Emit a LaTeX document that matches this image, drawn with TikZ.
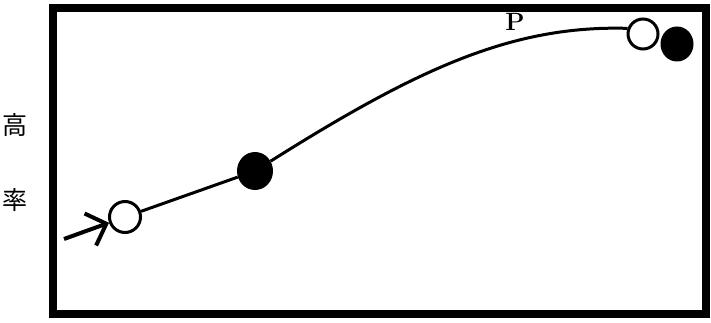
\documentclass[tikz,border=0pt]{standalone}
\usepackage{fontspec}
\newfontfamily\jpfont{Noto Sans CJK JP}
\usetikzlibrary{arrows.meta,shapes.geometric}
\begin{document}
\begin{tikzpicture}[x=1pt, y=-1pt,
  ball/.style={circle, draw, line width=3pt, inner sep=0pt},
  blackball/.style={ellipse, fill=black, inner sep=0pt},
  lbl/.style={font=\jpfont\fontsize{25}{25}\selectfont, inner sep=0pt}]
\useasboundingbox (0,0) rectangle (711,323);
% frame
\draw[line width=8pt] (53,8.5) rectangle (706,313.5);
% axis label
\node[lbl] (hi) at (15,125) {高};
\node[lbl] (rate) at (15,200) {率};
% balls on the curve
\node[ball, minimum size=31pt] (b1) at (125,217) {};
\node[blackball, minimum width=36pt, minimum height=38pt] (b2) at (255,171) {};
\node[ball, minimum size=30pt] (b3) at (643,34) {};
\node[blackball, minimum width=33pt, minimum height=35pt] (b4) at (677,44) {};
\node[font=\bfseries\fontsize{25}{25}\selectfont, inner sep=0pt] (p) at (515,22) {P};
% curve
\draw[line width=3pt] (b1) -- (b2);
\draw[line width=3pt] (b2) .. controls (417,69) and (512,25) .. (b3.160);
% arrow in
\coordinate (in) at (64,239);
\draw[line width=4pt, -{Straight Barb[length=17pt, width=34pt]}] (in) -- (b1);
\end{tikzpicture}
\end{document}
